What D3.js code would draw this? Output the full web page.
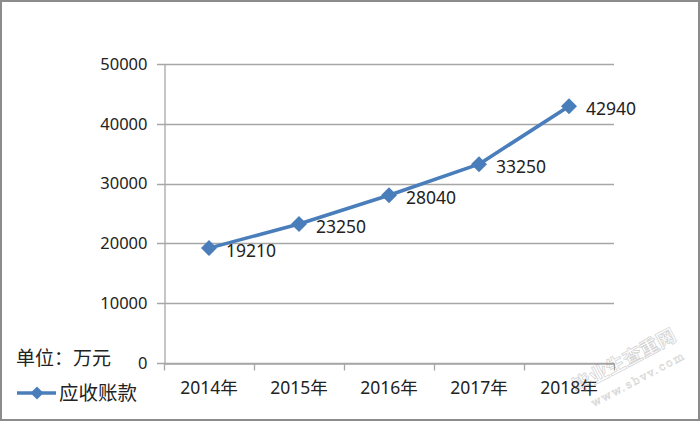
<!DOCTYPE html>
<html><head><meta charset="utf-8">
<script src="https://cdn.jsdelivr.net/npm/d3@7"></script>
<style>body{margin:0;background:#fff}svg{display:block}</style>
</head><body>
<svg id="c" width="700" height="421"></svg>
<script>
const categories = ["2014年","2015年","2016年","2017年","2018年"];
const seriesName = "应收账款";
const values = [19210, 23250, 28040, 33250, 42940];
const yTicks = [0, 10000, 20000, 30000, 40000, 50000];
const unitLabel = "单位：万元";

const svg = d3.select("#c");
const W = 700, H = 421;
const m = {left:164, right:86, top:64, bottom:58};
const font = "'Noto Sans', 'Noto Sans CJK SC', sans-serif";

svg.append("rect").attr("x",1).attr("y",1).attr("width",W-2).attr("height",H-2)
  .attr("fill","#fff").attr("stroke","#8c8c8c").attr("stroke-width",2);

const x = d3.scaleBand().domain(categories).range([m.left, W-m.right]);
const y = d3.scaleLinear().domain([0,50000]).range([H-m.bottom, m.top]);

// gridlines
svg.append("g").selectAll("line").data(yTicks).join("line")
  .attr("x1", m.left-7).attr("x2", W-m.right)
  .attr("y1", d=>Math.round(y(d))+0.5).attr("y2", d=>Math.round(y(d))+0.5)
  .attr("stroke","#a6a6a6").attr("stroke-width",1.3);

// y axis
const ya = svg.append("g").attr("transform",`translate(${m.left+0.5},0)`)
  .call(d3.axisLeft(y).tickValues(yTicks).tickSize(0).tickPadding(17).tickFormat(d3.format("d")));
ya.select(".domain").attr("stroke","#a6a6a6").attr("stroke-width",1.3);
ya.selectAll("text").attr("font-family",font).attr("font-size","16.5px").attr("fill","#222");

// x axis
const xa = svg.append("g").attr("transform",`translate(0,${Math.round(y(0))+0.5})`)
  .call(d3.axisBottom(x).tickSize(0).tickPadding(18));
xa.select(".domain").attr("stroke","#a6a6a6").attr("stroke-width",1.3);
xa.selectAll("text").attr("font-family",font).attr("font-size","17.5px").attr("fill","#222");
xa.append("g").selectAll("line").data(categories.map(c=>x(c)).concat([x.range()[1]])).join("line")
  .attr("x1",d=>Math.round(d)+0.5).attr("x2",d=>Math.round(d)+0.5).attr("y1",0).attr("y2",7)
  .attr("stroke","#a6a6a6").attr("stroke-width",1.3);

const blue = "#4a7ebb";
const cx = (d,i)=>x(categories[i])+x.bandwidth()/2;
const line = d3.line().x((d,i)=>cx(d,i)).y(d=>y(d));
svg.append("path").datum(values).attr("d",line).attr("fill","none")
  .attr("stroke",blue).attr("stroke-width",3.6).attr("stroke-linejoin","round");

const dia = s => `M0,${-s}L${s},0L0,${s}L${-s},0Z`;
svg.append("g").selectAll("path").data(values).join("path")
  .attr("d",dia(8)).attr("transform",(d,i)=>`translate(${cx(d,i)},${y(d)})`).attr("fill",blue);

svg.append("g").selectAll("text").data(values).join("text")
  .attr("x",(d,i)=>cx(d,i)+17).attr("y",d=>y(d)+3).attr("dy","0.35em")
  .attr("font-family",font).attr("font-size","17.5px").attr("fill","#222").text(d=>d);

// unit label
svg.append("text").attr("x",16).attr("y",358).attr("dy","0.35em")
  .attr("font-family",font).attr("font-size","19px").attr("fill","#222").text(unitLabel);

// legend
svg.append("line").attr("x1",17).attr("x2",56).attr("y1",393).attr("y2",393)
  .attr("stroke",blue).attr("stroke-width",3.6);
svg.append("path").attr("d",dia(6.5)).attr("transform","translate(37,393)").attr("fill",blue);
svg.append("text").attr("x",59).attr("y",393).attr("dy","0.35em")
  .attr("font-family",font).attr("font-size","19.5px").attr("fill","#222").text(seriesName);

// watermark
const wm = svg.append("g").attr("transform","translate(630,372) rotate(-28)").attr("opacity",0.35);
wm.append("text").attr("x",0).attr("y",-6).attr("text-anchor","middle")
  .attr("font-family","'Noto Sans CJK SC', sans-serif").attr("font-size","19px").attr("font-weight","bold")
  .attr("fill","none").attr("stroke","#888").attr("stroke-width",0.8).text("毕业生查重网");
wm.append("text").attr("x",4).attr("y",14).attr("text-anchor","middle")
  .attr("font-family","'DejaVu Serif', serif").attr("font-size","11px").attr("letter-spacing","2px")
  .attr("fill","none").attr("stroke","#888").attr("stroke-width",0.6).text("www.sbvv.com");
</script>
</body></html>
